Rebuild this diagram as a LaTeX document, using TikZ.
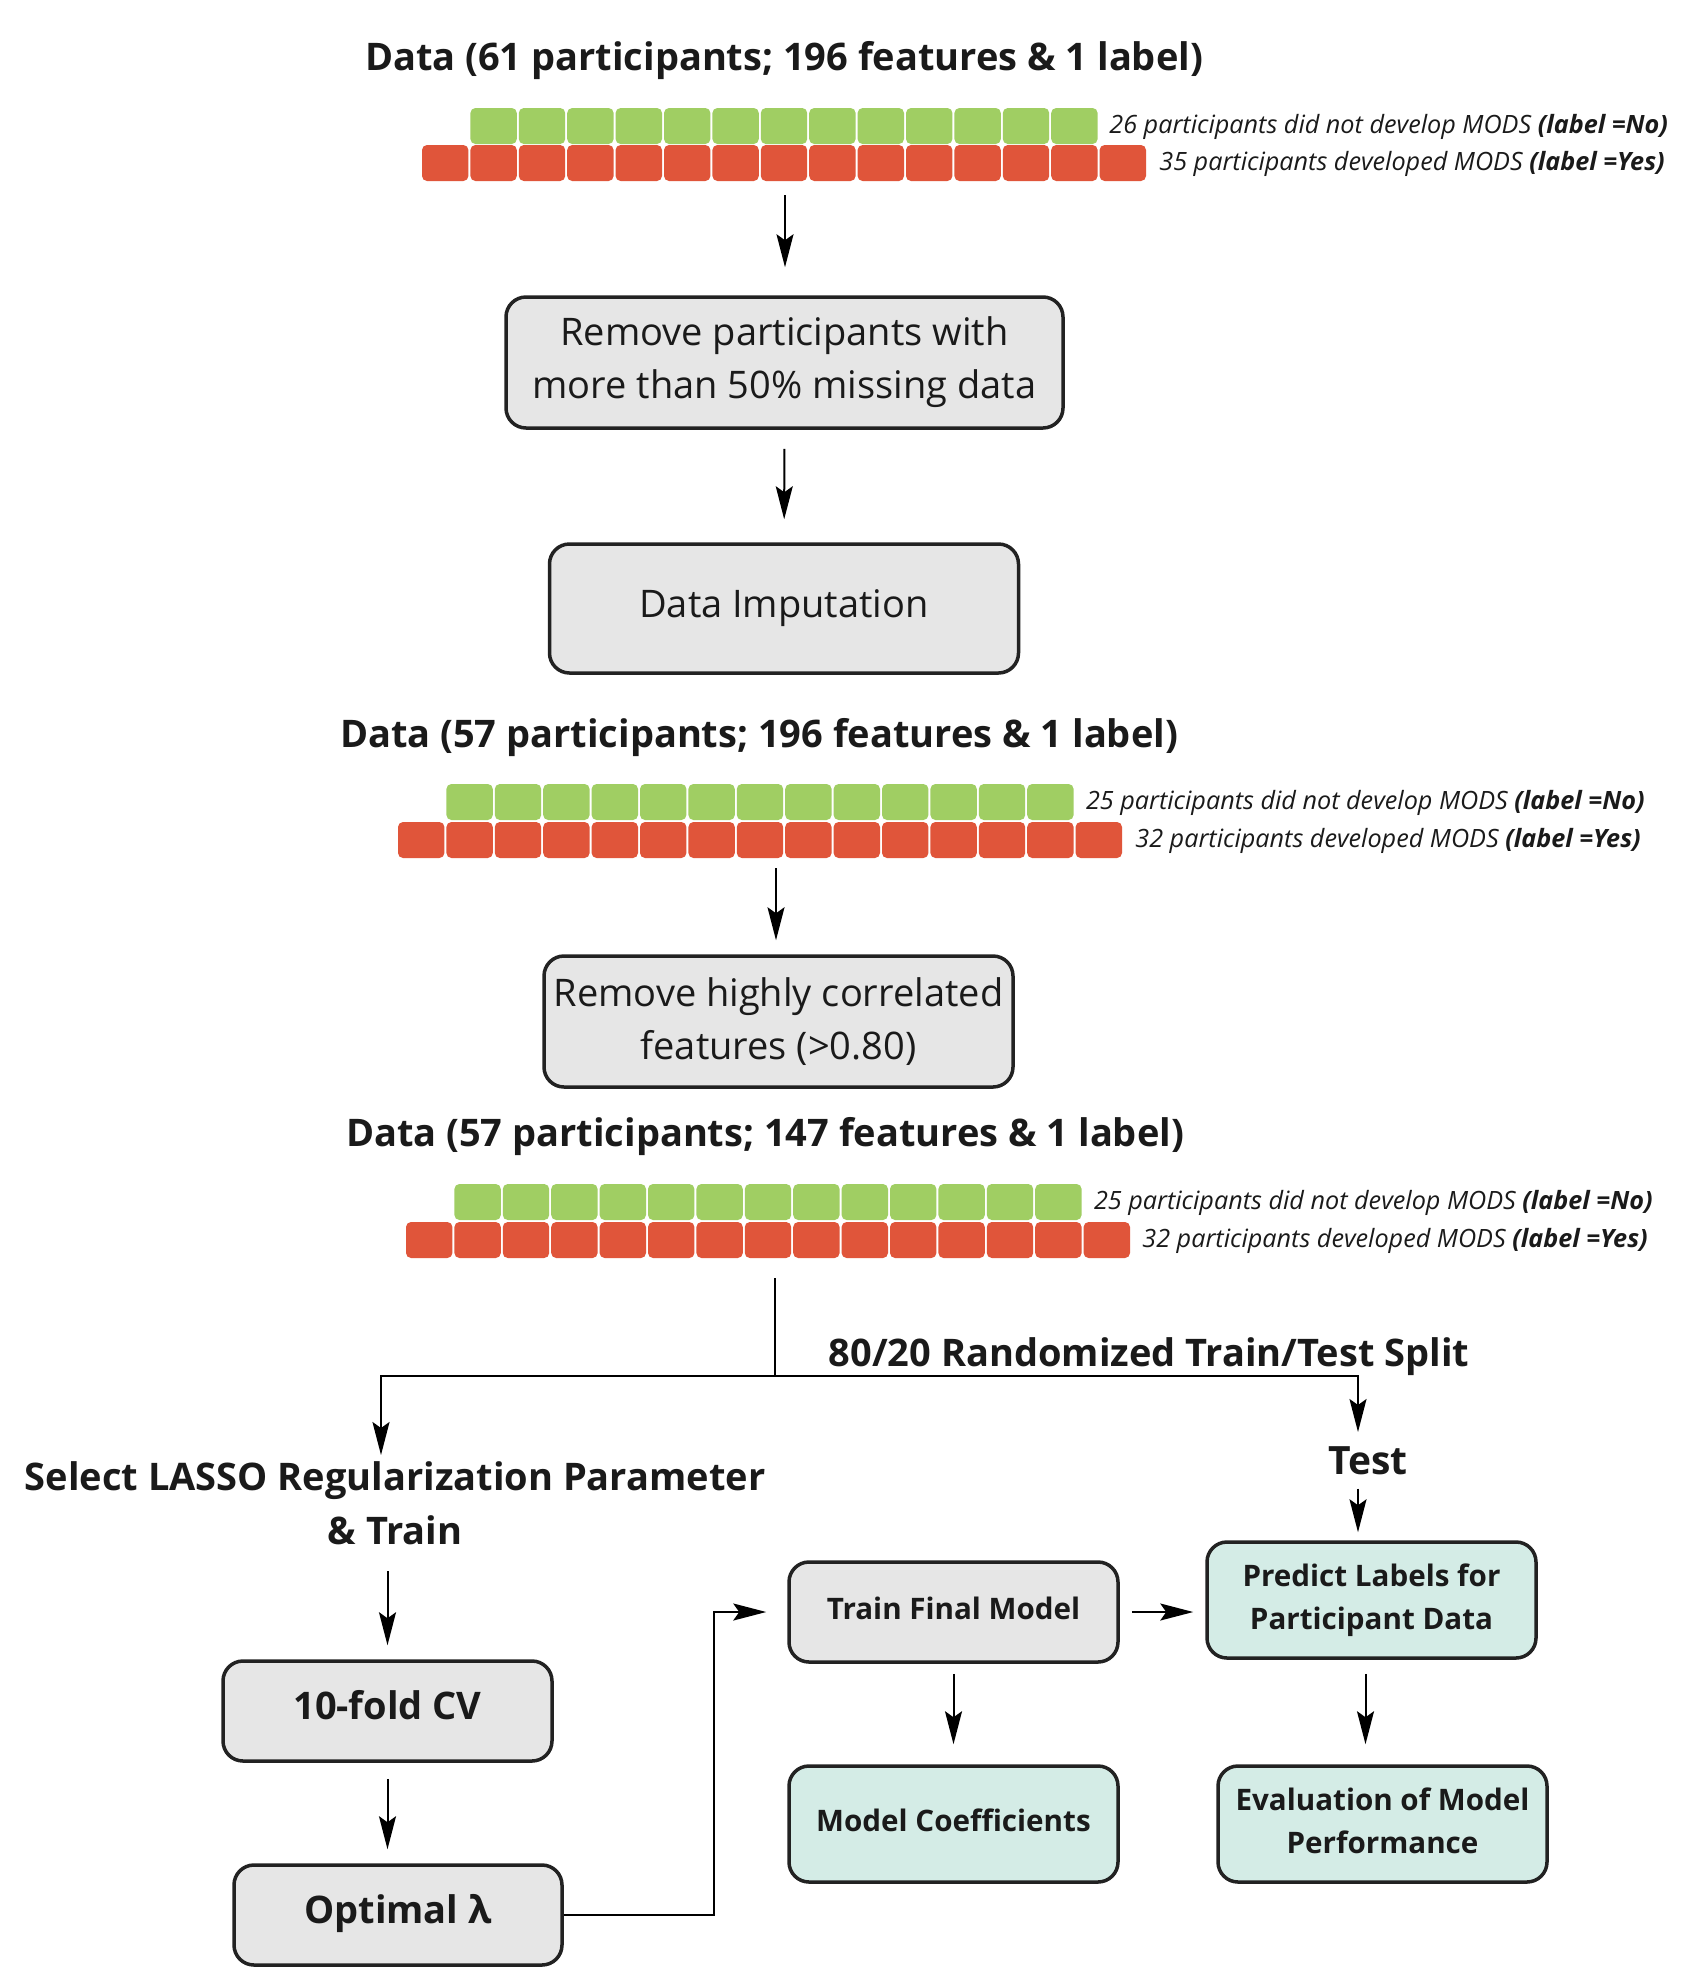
\documentclass[tikz,border=0pt]{standalone}
\usepackage{fontspec}
\setmainfont{Open Sans}
\usetikzlibrary{arrows.meta}
\definecolor{greenc}{HTML}{A0CE63}
\definecolor{redc}{HTML}{E0553A}
\definecolor{grayfill}{HTML}{E6E6E6}
\definecolor{tealfill}{HTML}{D4ECE6}
\definecolor{edge}{HTML}{222222}
\definecolor{ink}{HTML}{1A1A1A}
\newcommand\mydatarow[3]{%
  \foreach \i in {1,...,13} \fill[greenc, rounded corners=2.5pt] ({#1+\i*48.4+1},#2) rectangle ++(46.4,36);
  \foreach \i in {0,...,14} \fill[redc, rounded corners=2.5pt] ({#1+\i*48.4+1},#3) rectangle ++(46.4,36);}
\begin{document}
\begin{tikzpicture}[x=0.5pt,y=-0.5pt,
  box/.style={draw=edge, line width=1.75pt, rounded corners=10pt, align=center, text=ink, inner sep=2pt},
  graybox/.style={box, fill=grayfill},
  tealbox/.style={box, fill=tealfill},
  bigtxt/.style={font=\fontsize{19}{26.5}\selectfont},
  midbold/.style={font=\fontsize{19}{22}\selectfont\bfseries, text depth=6pt},
  smallbold/.style={font=\fontsize{14.8}{21.5}\selectfont\bfseries, text depth=3.8pt},
  title/.style={font=\fontsize{19}{27}\selectfont\bfseries, text=ink, inner sep=0pt, align=center},
  lab/.style={font=\fontsize{12.6}{14}\selectfont\itshape, text=ink, anchor=west, inner sep=0pt},
  arr/.style={-{Stealth[length=16.5pt,width=8.5pt,inset=3pt]}, line width=1pt},
  plain/.style={line width=1pt}]
\fill[white] (0,0) rectangle (1708,1982);
\useasboundingbox (0,0) rectangle (1708,1982);

% ---- first data block
\node[title] (t1) at (784,61) {Data (61 participants; 196 features \& 1 label)};
\mydatarow{421}{108}{145}
\node[lab] (l1a) at (1109,127) {26 participants did not develop MODS \textbf{(label =No)}};
\node[lab] (l1b) at (1159,164) {35 participants developed MODS \textbf{(label =Yes)}};
\coordinate (r1) at (785,195);

\node[graybox, bigtxt, minimum width=278.5pt, minimum height=65.5pt] (b1) at (784.5,362.5) {Remove participants with\\more than 50\% missing data};
\node[graybox, bigtxt, minimum width=234.5pt, minimum height=64.5pt] (b2) at (784,608.5) {Data Imputation};

% ---- second data block
\node[title] (t2) at (759,738) {Data (57 participants; 196 features \& 1 label)};
\mydatarow{397}{784}{822}
\node[lab] (l2a) at (1085.6,803) {25 participants did not develop MODS \textbf{(label =No)}};
\node[lab] (l2b) at (1135,841) {32 participants developed MODS \textbf{(label =Yes)}};
\coordinate (r2) at (776,868);

\node[graybox, bigtxt, minimum width=234.5pt, minimum height=65.5pt] (b3) at (778.5,1021.5) {Remove highly correlated\\features (>0.80)};

% ---- third data block
\node[title] (t3) at (765,1137) {Data (57 participants; 147 features \& 1 label)};
\mydatarow{405}{1184}{1222}
\node[lab] (l3a) at (1093.6,1203) {25 participants did not develop MODS \textbf{(label =No)}};
\node[lab] (l3b) at (1142,1241) {32 participants developed MODS \textbf{(label =Yes)}};
\coordinate (r3) at (775,1278);
\coordinate (split) at (775,1376);
\coordinate (trainTip) at (381,1455);
\coordinate (testTip) at (1358,1432);

\node[title] (splitlab) at (1149,1357) {80/20 Randomized Train/Test Split};
\node[title] (sel) at (395,1503) {Select LASSO Regularization Parameter\\\& Train};
\node[title, font=\fontsize{19.5}{22}\selectfont\bfseries] (test) at (1368,1461) {Test};

% ---- boxes
\node[graybox, midbold, minimum width=164.5pt, minimum height=50pt] (cv) at (387.5,1711) {10-fold CV};
\node[graybox, midbold, minimum width=164pt, minimum height=50pt] (opt) at (398,1915) {Optimal λ};
\node[graybox, smallbold, minimum width=164.5pt, minimum height=50pt] (tfm) at (953.5,1612) {Train Final Model};
\node[tealbox, smallbold, minimum width=164.5pt, minimum height=58pt] (pred) at (1371.5,1600) {Predict Labels for\\Participant Data};
\node[tealbox, smallbold, minimum width=164.5pt, minimum height=58pt] (coef) at (953.5,1824) {Model Coefficients};
\node[tealbox, smallbold, minimum width=164.5pt, minimum height=58pt] (eval) at (1382.5,1824) {Evaluation of Model\\Performance};

% ---- connectors
\draw[arr, shorten >=14pt] (r1) -- (r1 |- b1.north);
\draw[arr, shorten <=9.5pt, shorten >=11.5pt] (b1) -- (b2);
\draw[arr, shorten >=7pt] (r2) -- (r2 |- b3.north);
\draw[plain] (r3) -- (split);
\draw[arr] (split) -| (trainTip);
\draw[arr] (split) -| (testTip);
\draw[arr, shorten <=13pt, shorten >=7pt] (cv.north |- sel.south) -- (cv.north);
\draw[arr, shorten <=8pt, shorten >=7pt] (cv.south) -- (cv.south |- opt.north);
\draw[arr, shorten >=10.5pt] (opt.east) -- ++(150,0) |- (tfm.west);
\draw[arr, shorten <=6pt, shorten >=6pt] (tfm.east) -- (tfm.east -| pred.west);
\draw[arr, shorten <=6.5pt, shorten >=4pt] ([xshift=-5pt]test.south) -- ([xshift=-5pt]test.south |- pred.north);
\draw[arr, shorten <=5pt, shorten >=10pt] (tfm.south) -- (tfm.south |- coef.north);
\draw[arr, shorten <=7pt, shorten >=10pt] ([xshift=-3pt]pred.south) -- ([xshift=-3pt]pred.south |- eval.north);
\end{tikzpicture}
\end{document}
